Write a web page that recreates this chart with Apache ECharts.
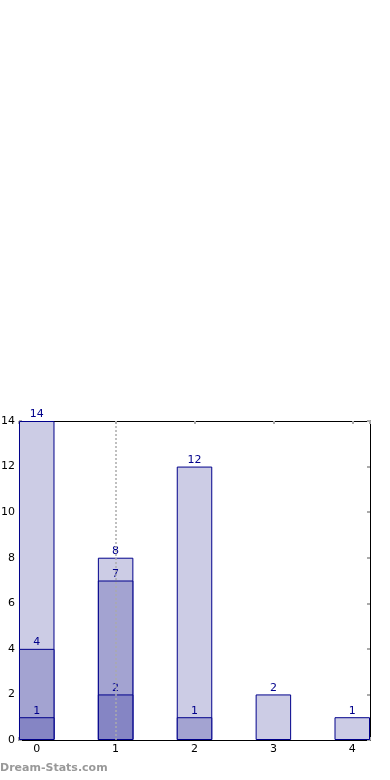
<!DOCTYPE html>
<html><head><meta charset="utf-8">
<script src="https://cdn.jsdelivr.net/npm/echarts@6/dist/echarts.min.js"></script>
<style>html,body{margin:0;padding:0;background:#fff}#c{width:390px;height:780px}</style>
</head><body><div id="c"></div>
<script>
var categories = [0, 1, 2, 3, 4];
var totalValues = [14, 8, 12, 2, 1];
var midValues = [4, 7, 1, null, null];
var lowValues = [1, 2, null, null, null];
var yTicks = [0, 2, 4, 6, 8, 10, 12, 14];
var markX = 1;

function pairs(vals){
  var out = [];
  for (var i = 0; i < categories.length; i++) if (vals[i] != null) out.push([categories[i], vals[i]]);
  return out;
}
var font = 'DejaVu Sans';
var edge = '#00008B';
var lbl = {show: true, position: 'top', distance: 1, color: '#00008B', fontFamily: font, fontSize: 11,
  formatter: function(p){ return p.value[1]; }};
function barSeries(name, vals, color, extra){
  var s = {name: name, type: 'bar', data: pairs(vals), barWidth: 35.5, barGap: '-100%',
    itemStyle: {color: color, borderColor: edge, borderWidth: 1}, label: lbl, animation: false};
  if (extra) for (var k in extra) s[k] = extra[k];
  return s;
}
var xMin = -0.225, xMax = 4.225;
var chart = echarts.init(document.getElementById('c'));
chart.setOption({
  animation: false,
  grid: {left: 19, right: 20, top: 421, bottom: 40, containLabel: false, outerBoundsMode: 'none'},
  xAxis: [{
    type: 'value', min: xMin, max: xMax, minInterval: 1, maxInterval: 1, position: 'bottom',
    axisLine: {show: true, onZero: false, lineStyle: {color: '#000', width: 1}},
    axisTick: {show: true, inside: true, length: 3, lineStyle: {color: '#aaa', width: 2}},
    axisLabel: {color: '#000', fontFamily: font, fontSize: 11, margin: 4,
      formatter: function(v){ return Math.abs(v - Math.round(v)) < 1e-6 ? String(Math.round(v)) : ''; }},
    splitLine: {show: false}
  }, {
    type: 'value', min: xMin, max: xMax, minInterval: 1, maxInterval: 1, position: 'top',
    axisLine: {show: true, onZero: false, lineStyle: {color: '#000', width: 1}},
    axisTick: {show: true, inside: true, length: 3, lineStyle: {color: '#aaa', width: 2}},
    axisLabel: {show: false}, splitLine: {show: false}
  }],
  yAxis: [{
    type: 'value', min: yTicks[0], max: yTicks[yTicks.length-1], interval: 2, position: 'left',
    axisLine: {show: true, onZero: false, lineStyle: {color: '#000', width: 1}},
    axisTick: {show: true, inside: true, length: 3, lineStyle: {color: '#aaa', width: 2}},
    axisLabel: {color: '#000', fontFamily: font, fontSize: 11, margin: 4},
    splitLine: {show: false}
  }, {
    type: 'value', min: yTicks[0], max: yTicks[yTicks.length-1], interval: 2, position: 'right',
    axisLine: {show: true, onZero: false, lineStyle: {color: '#000', width: 1}},
    axisTick: {show: true, inside: true, length: 3, lineStyle: {color: '#aaa', width: 2}},
    axisLabel: {show: false}, splitLine: {show: false}
  }],
  series: [
    barSeries('total', totalValues, '#CCCCE5', {markLine: {silent: true, symbol: 'none', z: 10,
      lineStyle: {color: '#aaa', type: [2, 2], width: 1.5}, label: {show: false},
      data: [{xAxis: markX}]}}),
    barSeries('mid', midValues, '#A3A3D1'),
    barSeries('low', lowValues, '#8585C4')
  ],
  graphic: [{type: 'text', left: 0, top: 763, style: {text: 'Dream-Stats.com', fill: '#999',
    font: 'bold 11px "DejaVu Sans"'}}]
});
</script></body></html>
